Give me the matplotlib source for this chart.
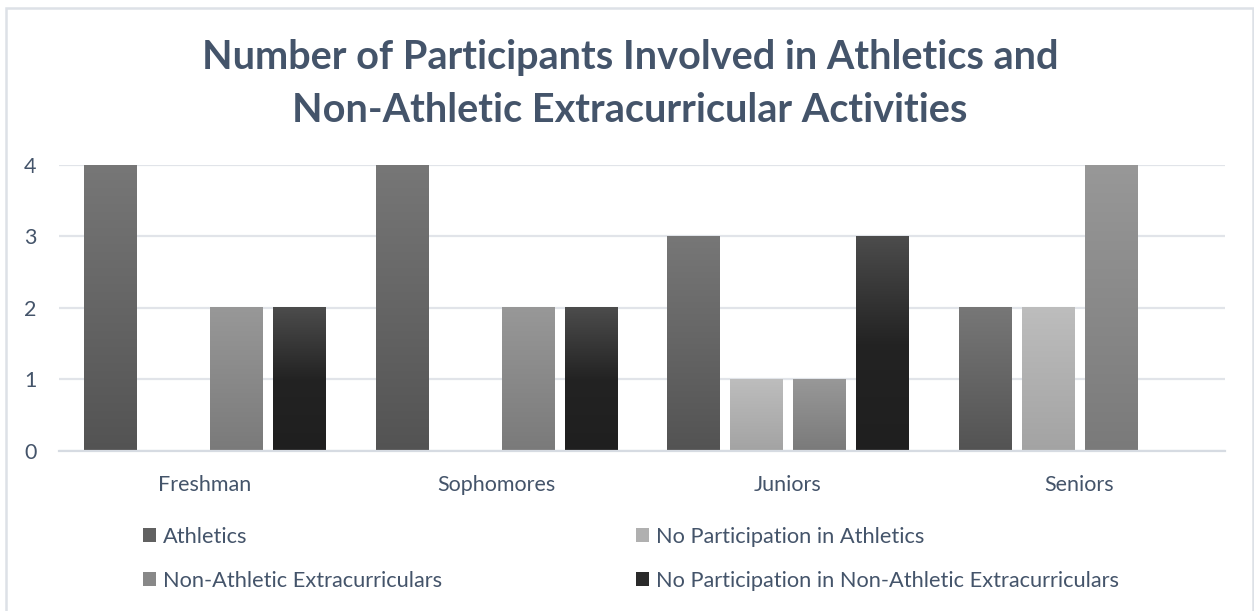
import numpy as np
import matplotlib
matplotlib.use('Agg')
import matplotlib.pyplot as plt
from matplotlib.colors import LinearSegmentedColormap
from matplotlib.patches import Rectangle, Patch

categories = ['Freshman', 'Sophomores', 'Juniors', 'Seniors']
series_names = ['Athletics', 'No Participation in Athletics',
                'Non-Athletic Extracurriculars',
                'No Participation in Non-Athletic Extracurriculars']
athletics = [4, 4, 3, 2]
no_athletics = [0, 0, 1, 2]
non_athletic = [2, 2, 1, 4]
no_non_athletic = [2, 2, 3, 0]

# (bottom, top) gradient stops for each series
gradients = [
    [(0.0, '#535353'), (1.0, '#777777')],
    [(0.0, '#a3a3a3'), (1.0, '#bdbdbd')],
    [(0.0, '#7a7a7a'), (1.0, '#989898')],
    [(0.0, '#1f1f1f'), (0.5, '#232323'), (1.0, '#4c4c4c')],
]
legend_colors = ['#616161', '#b0b0b0', '#888888', '#2a2a2a']

text_color = '#44546a'
grid_color = '#e1e4e9'

plt.rcParams['font.family'] = ['Lato', 'DejaVu Sans']

fig = plt.figure(figsize=(12.54, 6.11), dpi=100)
ax = fig.add_axes([0.047, 0.2619, 0.9299, 0.4681])

x = np.arange(len(categories))
pitch = 0.2165
width = 0.1787
all_series = [athletics, no_athletics, non_athletic, no_non_athletic]

for i, vals in enumerate(all_series):
    offset = (i - 1.5) * pitch
    bars = ax.bar(x + offset, vals, width=width, color='none', edgecolor='none', zorder=3)
    cmap = LinearSegmentedColormap.from_list(f'g{i}', gradients[i])
    grad = np.linspace(0, 1, 256).reshape(-1, 1)
    for b in bars:
        h = b.get_height()
        if h <= 0:
            continue
        x0 = b.get_x()
        ax.imshow(grad, cmap=cmap, origin='lower', aspect='auto',
                  extent=(x0, x0 + b.get_width(), 0, h), zorder=3,
                  interpolation='bilinear')

ax.set_xlim(-0.5, 3.5)
ax.set_ylim(0, 4)
ax.set_yticks([0, 1, 2, 3, 4])
ax.set_xticks(x)
ax.set_xticklabels(categories)
ax.grid(True, axis='y', color=grid_color, linewidth=1.6, zorder=0)
ax.set_axisbelow(True)
for side in ['top', 'right', 'left']:
    ax.spines[side].set_visible(False)
ax.spines['bottom'].set_color('#d6dbe2')
ax.spines['bottom'].set_linewidth(1.6)
ax.spines['bottom'].set_zorder(4)
ax.tick_params(axis='both', length=0, labelsize=15.5, labelcolor=text_color)
ax.tick_params(axis='x', pad=17)
ax.tick_params(axis='y', pad=16)

fig.text(0.5025, 0.8625, 'Number of Participants Involved in Athletics and\nNon-Athletic Extracurricular Activities',
         ha='center', va='center', fontsize=28.5, fontweight='bold', color=text_color,
         linespacing=1.56)

# legend fills column-first, so interleave to get row-major order
order = [0, 2, 1, 3]
handles = [Patch(facecolor=legend_colors[k], edgecolor='none') for k in order]
labels = [series_names[k] for k in order]
fig.legend(handles, labels, loc='upper left', bbox_to_anchor=(0.1056, 0.156),
           ncol=2, frameon=False, fontsize=15.7, labelcolor=text_color,
           handlelength=0.6, handleheight=0.6, handletextpad=0.3,
           columnspacing=8.9, labelspacing=1.12, borderpad=0)

# outer chart border
fig.patches.append(Rectangle((6 / 1254, -0.1), 1246.5 / 1254, 1 - 8 / 611 + 0.1,
                             transform=fig.transFigure, fill=False,
                             edgecolor='#dde1e7', linewidth=1.8))

fig.savefig('out.png', dpi=100)
